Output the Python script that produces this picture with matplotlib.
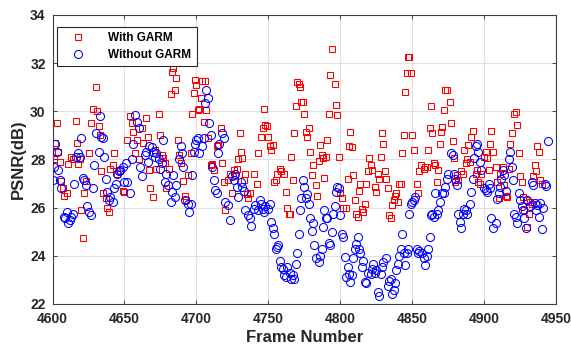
import matplotlib
matplotlib.use("Agg")
import matplotlib.pyplot as plt

# PSNR per frame, with the GARM scheme enabled (10 samples per row)
garm_frames = [
    4601, 4602, 4603, 4604, 4605, 4606, 4607, 4608, 4610, 4611,
    4613, 4614, 4616, 4617, 4618, 4619, 4620, 4621, 4622, 4623,
    4625, 4627, 4628, 4630, 4631, 4632, 4633, 4634, 4635, 4637,
    4638, 4639, 4640, 4642, 4643, 4645, 4647, 4649, 4650, 4652,
    4654, 4655, 4656, 4657, 4659, 4660, 4662, 4663, 4665, 4666,
    4667, 4668, 4670, 4671, 4672, 4674, 4675, 4676, 4677, 4678,
    4679, 4681, 4682, 4683, 4684, 4685, 4686, 4687, 4688, 4689,
    4691, 4692, 4693, 4694, 4696, 4697, 4698, 4699, 4700, 4701,
    4702, 4703, 4704, 4705, 4706, 4707, 4708, 4710, 4711, 4712,
    4714, 4715, 4717, 4718, 4719, 4720, 4722, 4723, 4725, 4726,
    4727, 4728, 4729, 4730, 4731, 4732, 4733, 4734, 4735, 4736,
    4737, 4740, 4742, 4743, 4745, 4746, 4747, 4748, 4749, 4750,
    4751, 4752, 4753, 4754, 4755, 4756, 4758, 4759, 4761, 4762,
    4763, 4764, 4765, 4766, 4767, 4768, 4769, 4770, 4771, 4772,
    4773, 4774, 4775, 4776, 4777, 4778, 4779, 4780, 4781, 4783,
    4784, 4785, 4786, 4787, 4788, 4789, 4790, 4791, 4792, 4793,
    4794, 4796, 4797, 4798, 4799, 4800, 4801, 4802, 4804, 4805,
    4806, 4807, 4808, 4809, 4810, 4811, 4812, 4813, 4814, 4815,
    4816, 4817, 4818, 4819, 4820, 4821, 4822, 4824, 4825, 4826,
    4827, 4828, 4829, 4830, 4831, 4832, 4833, 4834, 4835, 4836,
    4837, 4838, 4839, 4840, 4841, 4842, 4843, 4844, 4845, 4846,
    4847, 4848, 4849, 4850, 4851, 4853, 4854, 4855, 4856, 4858,
    4859, 4860, 4861, 4862, 4863, 4864, 4865, 4866, 4867, 4868,
    4869, 4870, 4871, 4872, 4873, 4874, 4876, 4877, 4878, 4879,
    4880, 4881, 4882, 4884, 4885, 4886, 4887, 4888, 4889, 4890,
    4891, 4892, 4894, 4895, 4896, 4897, 4898, 4900, 4901, 4902,
    4903, 4904, 4905, 4906, 4908, 4909, 4910, 4911, 4913, 4914,
    4915, 4916, 4917, 4918, 4919, 4921, 4922, 4923, 4924, 4925,
    4926, 4927, 4928, 4929, 4930, 4931, 4932, 4933, 4934, 4935,
    4936, 4937, 4938, 4939, 4940,
]
garm_psnr = [
    28.0, 28.7, 29.5, 28.3, 27.9, 27.1, 26.8, 26.5, 26.6, 27.8,
    28.1, 28.0, 29.6, 28.7, 27.8, 28.0, 25.9, 24.75, 26.6, 27.1,
    28.25, 29.5, 30.1, 31.0, 30.0, 29.4, 29.0, 27.5, 26.6, 26.4,
    26.0, 25.8, 27.6, 27.75, 28.25, 27.4, 27.5, 26.7, 26.65, 28.8,
    29.8, 29.5, 29.15, 28.25, 28.8, 28.0, 29.3, 28.7, 29.7, 28.95,
    27.55, 26.8, 26.45, 28.4, 27.6, 29.9, 29.0, 28.2, 28.05, 27.85,
    26.8, 27.6, 30.7, 31.65, 31.8, 30.9, 31.4, 28.8, 28.2, 27.85,
    27.1, 26.5, 26.3, 27.35, 28.25, 29.9, 30.75, 31.3, 31.1, 30.05,
    30.1, 30.55, 31.25, 29.55, 31.25, 30.05, 28.9, 27.75, 27.8, 27.55,
    28.55, 28.6, 29.3, 27.85, 27.05, 25.9, 27.15, 27.4, 26.6, 27.55,
    27.3, 27.6, 28.0, 29.1, 28.3, 28.05, 27.15, 27.4, 26.55, 26.4,
    26.6, 27.4, 27.0, 28.25, 28.95, 29.3, 30.1, 29.45, 29.4, 28.95,
    28.55, 28.4, 28.6, 27.05, 27.15, 27.4, 27.6, 27.5, 27.4, 26.65,
    26.0, 25.75, 25.75, 28.1, 27.15, 29.1, 30.2, 31.2, 31.15, 31.0,
    30.4, 30.4, 29.9, 29.15, 28.95, 29.3, 28.3, 27.35, 27.75, 26.95,
    26.5, 27.95, 28.6, 28.2, 28.05, 27.25, 28.1, 28.8, 29.9, 31.5,
    32.6, 31.15, 30.25, 29.85, 28.1, 26.6, 26.4, 26.0, 26.0, 27.2,
    28.55, 29.15, 28.5, 27.35, 26.3, 25.75, 25.6, 26.7, 27.0, 25.95,
    25.8, 26.15, 27.0, 27.5, 28.05, 27.75, 27.55, 26.85, 26.65, 27.4,
    27.2, 28.1, 29.1, 28.65, 27.5, 27.2, 26.8, 25.7, 25.55, 26.1,
    26.3, 26.5, 26.6, 26.25, 27.0, 27.0, 28.25, 29.0, 30.8, 31.6,
    32.25, 32.25, 31.6, 29.0, 28.4, 27.0, 26.6, 27.5, 27.75, 27.6,
    27.7, 27.7, 28.4, 29.3, 30.2, 29.1, 27.85, 27.75, 27.05, 27.55,
    28.65, 29.15, 29.35, 30.05, 30.9, 30.9, 30.4, 29.5, 28.75, 28.05,
    27.05, 27.35, 27.15, 27.5, 27.4, 28.4, 27.85, 28.0, 28.6, 27.9,
    28.95, 29.2, 27.4, 27.55, 27.05, 27.0, 27.4, 28.1, 28.3, 28.05,
    27.55, 28.65, 29.2, 28.3, 27.7, 27.05, 26.4, 27.4, 27.7, 26.95,
    26.5, 26.45, 27.6, 28.65, 29.1, 29.9, 29.95, 29.45, 28.25, 27.3,
    27.05, 26.45, 25.9, 26.3, 25.2, 25.75, 26.25, 26.15, 27.3, 27.75,
    27.5, 28.55, 28.3, 27.15, 27.0,
]

# PSNR per frame, without GARM (10 samples per row)
base_frames = [
    4600, 4601, 4602, 4603, 4604, 4605, 4606, 4608, 4609, 4610,
    4611, 4612, 4613, 4614, 4615, 4616, 4618, 4619, 4620, 4621,
    4622, 4623, 4624, 4625, 4627, 4628, 4629, 4630, 4632, 4633,
    4634, 4635, 4636, 4637, 4638, 4639, 4640, 4642, 4643, 4644,
    4645, 4646, 4647, 4649, 4650, 4651, 4652, 4654, 4655, 4656,
    4657, 4659, 4660, 4661, 4662, 4664, 4665, 4666, 4667, 4669,
    4670, 4671, 4672, 4674, 4675, 4676, 4677, 4678, 4679, 4680,
    4682, 4683, 4684, 4685, 4686, 4688, 4689, 4690, 4691, 4692,
    4694, 4695, 4696, 4697, 4698, 4699, 4700, 4701, 4702, 4704,
    4705, 4706, 4707, 4708, 4709, 4710, 4711, 4712, 4713, 4714,
    4715, 4716, 4718, 4719, 4720, 4722, 4723, 4725, 4726, 4727,
    4728, 4729, 4731, 4732, 4733, 4734, 4736, 4737, 4738, 4740,
    4741, 4743, 4744, 4745, 4746, 4747, 4748, 4750, 4751, 4752,
    4753, 4754, 4755, 4756, 4757, 4758, 4759, 4760, 4761, 4762,
    4763, 4765, 4766, 4767, 4768, 4769, 4770, 4771, 4772, 4773,
    4774, 4775, 4776, 4777, 4778, 4779, 4780, 4781, 4782, 4783,
    4785, 4786, 4787, 4788, 4789, 4790, 4791, 4792, 4793, 4794,
    4795, 4796, 4797, 4798, 4799, 4800, 4801, 4802, 4803, 4804,
    4805, 4806, 4807, 4808, 4809, 4810, 4811, 4812, 4813, 4814,
    4815, 4816, 4817, 4818, 4819, 4821, 4822, 4823, 4824, 4825,
    4826, 4827, 4828, 4829, 4830, 4832, 4833, 4834, 4835, 4836,
    4837, 4838, 4839, 4840, 4841, 4842, 4843, 4844, 4845, 4846,
    4847, 4848, 4849, 4850, 4851, 4852, 4853, 4854, 4855, 4857,
    4858, 4859, 4860, 4861, 4862, 4863, 4864, 4865, 4866, 4867,
    4868, 4869, 4871, 4872, 4873, 4874, 4875, 4877, 4878, 4879,
    4880, 4881, 4882, 4883, 4884, 4885, 4886, 4887, 4888, 4890,
    4891, 4892, 4893, 4894, 4895, 4896, 4897, 4898, 4900, 4901,
    4902, 4903, 4904, 4905, 4906, 4908, 4909, 4910, 4911, 4912,
    4913, 4914, 4915, 4917, 4918, 4919, 4920, 4921, 4922, 4923,
    4924, 4925, 4926, 4927, 4928, 4929, 4930, 4932, 4933, 4934,
    4935, 4936, 4937, 4938, 4939, 4940, 4941, 4942, 4943, 4944,
]
base_psnr = [
    27.15, 27.7, 28.65, 28.3, 27.55, 27.15, 26.8, 25.6, 25.55, 25.8,
    25.35, 25.5, 25.6, 25.75, 27.0, 28.1, 28.25, 28.1, 28.9, 27.25,
    27.15, 26.95, 26.05, 25.8, 25.7, 26.8, 27.75, 29.1, 28.3, 29.8,
    28.95, 28.9, 28.1, 27.2, 26.65, 26.3, 26.45, 26.25, 26.8, 27.0,
    27.4, 27.5, 27.55, 27.7, 27.05, 27.85, 27.05, 26.6, 28.0, 28.65,
    29.85, 29.55, 29.3, 27.7, 27.3, 28.2, 28.3, 27.9, 28.55, 28.5,
    28.3, 28.1, 28.25, 28.0, 27.6, 27.85, 28.8, 27.05, 27.4, 26.95,
    26.25, 26.65, 27.35, 26.45, 26.95, 28.0, 28.55, 28.25, 27.7, 26.3,
    26.15, 25.8, 26.15, 27.35, 28.3, 28.65, 28.8, 28.9, 28.25, 28.55,
    28.9, 30.35, 30.9, 30.55, 29.5, 29.0, 27.7, 27.15, 26.75, 26.6,
    28.25, 28.65, 29.1, 28.9, 26.25, 26.1, 25.5, 27.3, 27.15, 27.4,
    26.85, 26.45, 27.05, 26.85, 26.7, 25.9, 25.7, 25.55, 25.25, 25.95,
    26.1, 25.9, 26.3, 26.15, 25.95, 25.8, 26.05, 25.95, 26.15, 25.4,
    25.15, 24.9, 24.3, 24.35, 24.45, 23.8, 23.55, 23.45, 23.2, 23.1,
    23.55, 23.3, 23.05, 23.2, 23.05, 23.65, 24.1, 24.9, 25.9, 26.4,
    27.15, 26.85, 26.4, 26.55, 26.15, 25.55, 25.05, 25.35, 24.45, 23.9,
    23.75, 24.0, 24.3, 25.2, 25.9, 25.55, 25.55, 24.55, 24.45, 25.0,
    25.75, 26.05, 26.65, 26.85, 26.8, 25.7, 24.9, 24.8, 23.95, 23.1,
    23.55, 23.25, 22.9, 23.2, 23.9, 24.3, 24.5, 24.8, 24.3, 24.1,
    23.55, 23.8, 22.9, 22.85, 23.3, 23.25, 23.45, 23.65, 23.3, 23.4,
    22.5, 22.35, 23.25, 23.55, 23.75, 23.9, 22.75, 22.95, 23.05, 22.4,
    22.6, 22.85, 23.4, 23.65, 24.0, 24.3, 24.9, 24.1, 23.6, 24.1,
    24.3, 25.75, 26.15, 26.25, 26.3, 26.45, 24.3, 24.1, 24.2, 24.1,
    23.9, 23.6, 24.0, 24.3, 24.8, 25.7, 25.75, 25.6, 26.6, 25.75,
    25.9, 26.25, 26.6, 26.6, 26.85, 27.2, 27.4, 28.25, 28.2, 27.4,
    27.2, 26.95, 25.75, 25.4, 25.15, 25.75, 25.95, 25.9, 25.75, 26.15,
    26.65, 27.2, 28.05, 28.55, 28.65, 28.3, 27.9, 27.55, 26.8, 26.75,
    26.65, 27.0, 26.8, 25.55, 25.15, 25.35, 26.35, 26.6, 26.85, 27.2,
    27.55, 27.35, 26.7, 28.0, 28.3, 27.7, 27.15, 25.75, 25.6, 25.35,
    26.6, 26.3, 26.05, 25.9, 25.55, 25.15, 26.3, 26.05, 27.05, 26.95,
    26.2, 25.9, 26.1, 25.6, 26.2, 25.1, 26.0, 27.0, 26.9, 28.75,
]

x_ticks = [4600, 4650, 4700, 4750, 4800, 4850, 4900, 4950]
y_ticks = [22, 24, 26, 28, 30, 32, 34]

plt.rcParams['font.family'] = ['Liberation Sans', 'DejaVu Sans']

fig = plt.figure(figsize=(5.71, 3.47), dpi=100)
ax = fig.add_axes([0.092, 0.124, 0.882, 0.833])

ax.plot(garm_frames, garm_psnr, linestyle='none', marker='s', markersize=5.0,
        markerfacecolor='none', markeredgecolor='#ff0000', markeredgewidth=0.75,
        label='With GARM', zorder=3)
ax.plot(base_frames, base_psnr, linestyle='none', marker='o', markersize=5.8,
        markerfacecolor='none', markeredgecolor='#0000ff', markeredgewidth=0.75,
        label='Without GARM', zorder=3)

ax.set_xlim(4600, 4950)
ax.set_ylim(22, 34)
ax.set_xticks(x_ticks)
ax.set_yticks(y_ticks)
ax.grid(True, color='#e0e0e0', linewidth=0.8)
ax.set_axisbelow(True)
ax.tick_params(direction='in', top=True, right=True, length=3, width=0.6,
               labelsize=10, colors='#262626')
ax.tick_params(axis='x', pad=6)
ax.tick_params(axis='y', pad=5)
for lbl in ax.get_xticklabels() + ax.get_yticklabels():
    lbl.set_fontweight('bold')
for sp in ax.spines.values():
    sp.set_color('#404040')
    sp.set_linewidth(0.8)

ax.set_xlabel('Frame Number', fontsize=12, fontweight='bold', color='#262626', labelpad=3)
ax.set_ylabel('PSNR(dB)', fontsize=12, fontweight='bold', color='#262626', labelpad=3)

leg = ax.legend(loc='upper left', bbox_to_anchor=(0.002, 0.972),
                prop={'weight': 'bold', 'size': 8.5}, fancybox=False, framealpha=1,
                edgecolor='#262626', borderpad=0.45, handletextpad=1.3,
                labelspacing=0.45, handlelength=2.6, borderaxespad=0.3)
leg.get_frame().set_linewidth(0.8)

fig.savefig('out.png', dpi=100)
